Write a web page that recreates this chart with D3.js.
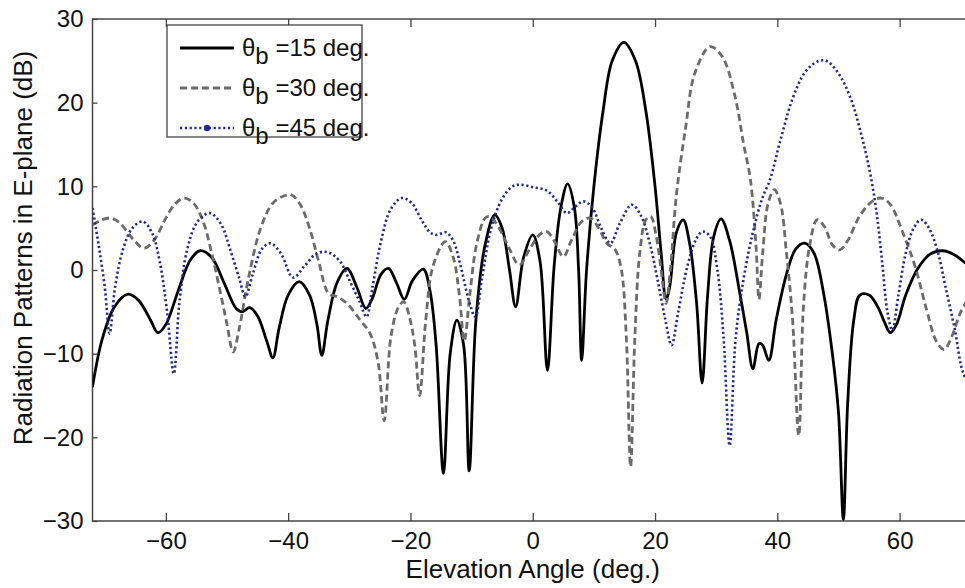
<!DOCTYPE html>
<html>
<head>
<meta charset="utf-8">
<script src="https://cdn.jsdelivr.net/npm/d3@7"></script>
<style>
body{margin:0;background:#fff}
text{font-family:"Liberation Sans",Arial,Helvetica,sans-serif;fill:#111}
</style>
</head>
<body>
<svg id="chart" width="965" height="588"></svg>
<script>
var xTicks = [-60,-40,-20,0,20,40,60]
var yTicks = [-30,-20,-10,0,10,20,30]
var legendAngles = ["15","30","45"]

// theta_b = 15 deg, [angle, dB]
var beam15 = [[-72,-14.0],[-70.5,-8.5],[-68.5,-4.5],[-66.3,-2.9],[-64.5,-3.6],[-62.5,-6.0],[-61.3,-7.5],[-60,-6.5],
  [-58,-2.5],[-56,1.2],[-54.4,2.3],[-52.5,1.5],[-50.5,-1.5],[-48.5,-4.6],[-47.5,-5.0],[-46.3,-4.5],[-45,-5.5],
  [-43.5,-8.5],[-42.5,-10.5],[-41.5,-7.0],[-40,-3.0],[-38.2,-1.4],[-36.5,-3.0],[-35.3,-6.5],[-34.5,-10.2],[-33.5,-6.0],
  [-32,-1.5],[-30.4,0.2],[-28.8,-2.0],[-27.3,-4.6],[-26.3,-3.5],[-24.8,-0.5],[-23.6,0.2],[-22.3,-1.5],[-21,-3.5],
  [-19.7,-1.3],[-17.9,0.1],[-16.8,-2.5],[-15.8,-9],[-14.6,-24.3],[-13.5,-10],[-12.4,-6.0],[-11.3,-9],[-10.4,-24.0],
  [-9.3,-6],[-7.8,3.0],[-6.2,6.6],[-5.0,5.0],[-3.8,0.0],[-2.8,-4.4],[-1.5,1.5],[0,4.2],[1.2,1.0],[2.4,-12.0],
  [3.5,0.5],[4.6,7.5],[5.7,10.3],[6.8,7.5],[7.5,0],[8.0,-10.8],[8.8,0],[10,10],[11.5,19],[13,25],[14.9,27.2],
  [16.8,25],[18.5,19],[20,10],[21,2],[21.8,-3.5],[22.4,-2],[23.5,4.5],[24.6,6.0],[25.7,3],[26.8,-4],[27.7,-13.5],
  [28.6,-3],[29.6,4],[30.8,6.1],[32.2,3.5],[33.8,-2.5],[35,-7.5],[36,-11.8],[37,-8.8],[37.6,-9.0],[38.6,-10.8],
  [39.8,-6],[41.5,-0.5],[43,2.5],[44.5,3.2],[46,2],[47.5,-2.5],[49,-10],[50,-17],[50.8,-29.8],[51.5,-16],
  [52.5,-6],[53.5,-3],[55,-3],[56.5,-4.5],[57.5,-6.2],[58.5,-7.5],[59.5,-6.5],[61,-3],[63,0.2],[65,1.9],
  [67,2.3],[69,1.8],[72,0.0]]

// theta_b = 30 deg
var beam30 = [[-72,5.4],[-70.5,6.0],[-69,6.2],[-67.5,5.6],[-65.5,3.8],[-63.6,2.6],[-62,3.5],[-60,6.2],[-58.5,7.9],
  [-57,8.6],[-55.5,8.0],[-54,6],[-52.5,2],[-51,-3],[-50,-6.5],[-49,-9.8],[-48,-7],[-46.5,-1],[-44.5,5],[-42.5,8],
  [-40.5,8.9],[-39.5,9.0],[-38,7.8],[-36.5,5],[-35,1],[-33.4,-2.8],[-32,-3.2],[-30.4,-4.0],[-28.2,-6.0],[-26.6,-7.6],
  [-25.3,-11],[-24.3,-18],[-23.2,-8],[-22,-4.5],[-21.1,-3.8],[-20.2,-5.5],[-19.3,-9],[-18.5,-15],[-17.5,-6],
  [-16.3,0.5],[-14.3,3.4],[-13,1.5],[-12,-3],[-11.2,-8.5],[-10.3,-3],[-9.2,3],[-7.8,6.2],[-7,6.4],[-5.5,5],
  [-3.8,2.5],[-2.2,0.6],[-0.5,2.5],[1.2,4.3],[2.3,4.6],[3.5,3.5],[5,1.6],[6.3,3.5],[8,5.8],[9.4,6.2],[10.8,5.0],
  [12.1,3.2],[13.5,2.4],[14.5,0],[15.3,-8],[16,-23.5],[16.7,-8],[17.5,2],[18.5,6.0],[19.3,6.4],[20.2,4],[21,0],
  [21.8,-4.0],[22.5,0],[23.5,9],[25,17],[26.5,23.5],[29,26.7],[31,25.5],[33,21],[34.5,15],[35.6,10.8],[36.5,3],
  [37,-3.5],[37.6,2],[38.5,8],[39.5,9.6],[40.5,8],[41.5,2],[42.5,-6],[43.5,-19.8],[44.3,-4],[45.3,3],[46.5,6.0],
  [47.7,5.2],[49,3.0],[50.2,2.4],[51.5,3.5],[53.5,6.5],[55.5,8.2],[57,8.6],[58.5,7.8],[60.5,4.5],[62.5,0.5],
  [64.5,-5],[66,-8.5],[67.3,-9.5],[68.5,-8],[70,-5],[72,-2.5]]

// theta_b = 45 deg
var beam45 = [[-72,7.4],[-71,3],[-70,-2],[-69.2,-7.6],[-68.3,-2],[-67,2.5],[-65.5,5],[-63.8,5.8],[-62.3,4.5],
  [-61,1],[-59.8,-5],[-58.7,-12.4],[-57.8,-4],[-56.5,2.5],[-54.8,5.8],[-52.8,6.8],[-51,5.5],[-49.5,2.5],[-48,-1],
  [-47,-3.2],[-45.8,-0.5],[-44.3,2.5],[-42.9,3.2],[-41.2,2.0],[-39.2,-0.9],[-37.3,0.5],[-35.3,2.0],[-33.4,2.1],
  [-31.5,1],[-29.8,-1.5],[-28.3,-3.8],[-27.2,-5.6],[-26.2,-2],[-24.8,3.5],[-23.2,7.3],[-21.4,8.6],[-19.8,8.0],
  [-18.2,6],[-16.8,4.5],[-15.7,4.2],[-14.2,4.5],[-13,3.5],[-11.8,0.5],[-10.5,-3.5],[-9.4,-5.6],[-8.3,-1],[-6.8,5],
  [-5,8.5],[-3.3,10],[-2,10.2],[0,9.9],[2.3,9.5],[4,8.2],[5.6,6.8],[7,7.6],[8.3,8.2],[9.7,7.5],[11.2,5],[12.7,3.2],
  [14.2,5.5],[16.2,7.8],[17.7,6.5],[19.2,3],[20.5,-1.5],[21.7,-6],[22.7,-9.0],[23.8,-5],[25.3,0.5],[26.8,3.8],
  [27.8,4.6],[29,4],[30.2,0],[31.2,-8],[32.2,-21.0],[33.2,-8],[34.5,-1],[36,4.5],[37.5,8.5],[38.8,10.8],[40.5,15.5],
  [42.5,20.5],[44.5,23.6],[46.5,24.9],[48,25.0],[50,23.5],[52,20.5],[53.8,16],[55.2,11.5],[56.3,6.5],[57.2,0.5],
  [58,-5],[58.8,-7.2],[59.8,-3],[61,2],[62.3,5],[63.5,6.0],[64.8,5],[66.3,2],[67.5,-2],[69,-7],[70.5,-12.5],[72,-14]]

var plot = {left:92.5, right:973, top:19, bottom:521}
var svg = d3.select("#chart")

var xScale = d3.scaleLinear().domain([-72,72]).range([plot.left, plot.right])
var yScale = d3.scaleLinear().domain([-30,30]).range([plot.bottom, plot.top])

svg.append("defs").append("clipPath").attr("id","clip")
  .append("rect")
  .attr("x",plot.left).attr("y",plot.top)
  .attr("width",plot.right-plot.left).attr("height",plot.bottom-plot.top)

var axisColor = "#444"
var styleAxis = function(g)
{
  g.select(".domain").remove()
  g.selectAll(".tick line").attr("stroke",axisColor).attr("stroke-width",1.3)
  g.selectAll(".tick text").attr("font-size",24).attr("fill","#111")
}

svg.append("g").attr("transform","translate(0,"+plot.bottom+")")
  .call(d3.axisBottom(xScale).tickValues(xTicks).tickSize(-8).tickPadding(11))
  .call(styleAxis)
svg.append("g").attr("transform","translate(0,"+plot.top+")")
  .call(d3.axisTop(xScale).tickValues(xTicks).tickSize(-8).tickFormat(""))
  .call(styleAxis)
svg.append("g").attr("transform","translate("+plot.left+",0)")
  .call(d3.axisLeft(yScale).tickValues(yTicks).tickSize(-5).tickPadding(9))
  .call(styleAxis)
svg.append("g").attr("transform","translate("+plot.right+",0)")
  .call(d3.axisRight(yScale).tickValues(yTicks).tickSize(-5).tickFormat(""))
  .call(styleAxis)

svg.append("rect")
  .attr("x",plot.left).attr("y",plot.top)
  .attr("width",plot.right-plot.left).attr("height",plot.bottom-plot.top)
  .attr("fill","none").attr("stroke",axisColor).attr("stroke-width",1.5)

var series = [
  {data:beam15, color:"#000", width:2.8, dash:null},
  {data:beam30, color:"#6b6b6b", width:2.8, dash:"7,4"},
  {data:beam45, color:"#1d2d8c", width:2.6, dash:"2.2,2.6"}
]

var line = d3.line()
  .x(function(d){return xScale(d[0])})
  .y(function(d){return yScale(d[1])})
  .curve(d3.curveCatmullRom.alpha(0.5))

svg.append("g").attr("clip-path","url(#clip)")
  .selectAll("path")
  .data(series)
  .enter()
  .append("path")
  .attr("d",function(s){return line(s.data)})
  .attr("fill","none")
  .attr("stroke",function(s){return s.color})
  .attr("stroke-width",function(s){return s.width})
  .attr("stroke-dasharray",function(s){return s.dash})
  .attr("stroke-linejoin","round")

// legend
var legend = svg.append("g").attr("transform","translate(167,25)")
legend.append("rect")
  .attr("width",195).attr("height",112)
  .attr("fill","#fff").attr("stroke",axisColor).attr("stroke-width",1.3)

var rows = legend.selectAll("g.row")
  .data(series)
  .enter()
  .append("g")
  .attr("class","row")
  .attr("transform",function(s,i){return "translate(0,"+(23+i*40)+")"})

rows.append("line")
  .attr("x1",13).attr("x2",67).attr("y1",0).attr("y2",0)
  .attr("stroke",function(s){return s.color})
  .attr("stroke-width",function(s){return s.width})
  .attr("stroke-dasharray",function(s){return s.dash})

rows.filter(function(s,i){return i==2})
  .append("circle").attr("cx",40).attr("cy",0).attr("r",3.2).attr("fill","#1d2d8c")

var label = rows.append("text")
  .attr("x",75).attr("y",8)
  .attr("font-size",24)
label.append("tspan").text("\u03b8")
label.append("tspan").attr("dy",8).text("b")
label.append("tspan").attr("dy",-8).text(function(s,i){return " =" + legendAngles[i] + " deg."})

svg.append("text")
  .attr("x",(plot.left+plot.right)/2).attr("y",578)
  .attr("text-anchor","middle").attr("font-size",26)
  .text("Elevation Angle (deg.)")

svg.append("text")
  .attr("transform","translate(32,248) rotate(-90)")
  .attr("text-anchor","middle").attr("font-size",26)
  .text("Radiation Patterns in E-plane (dB)")
</script>
</body>
</html>
